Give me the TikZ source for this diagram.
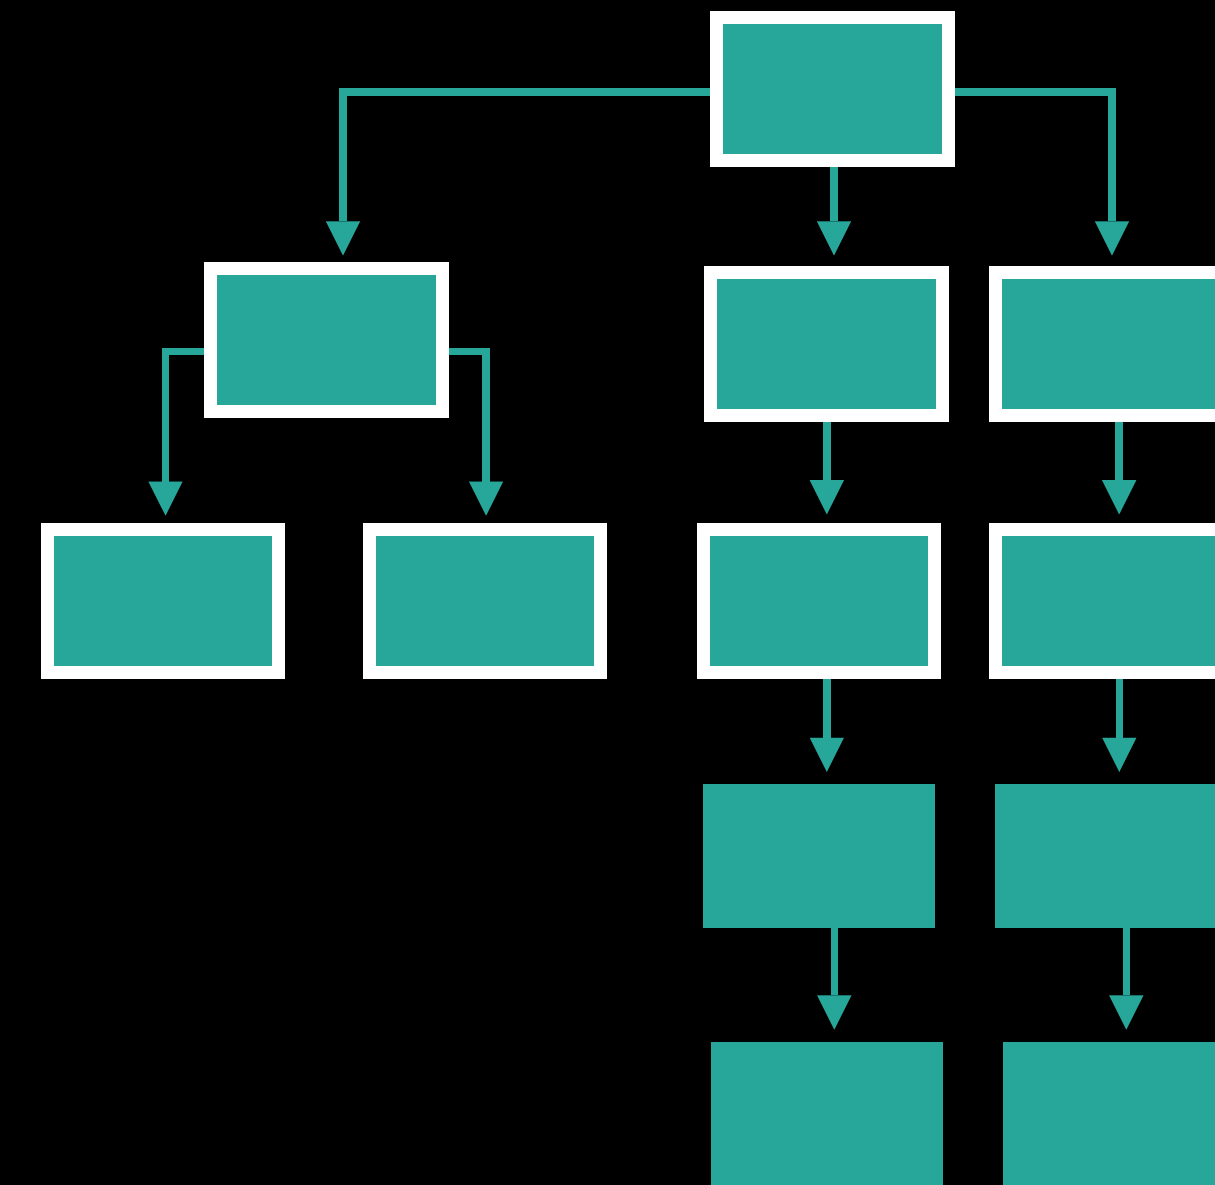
\documentclass[tikz,border=0pt]{standalone}
\usetikzlibrary{arrows.meta}
\definecolor{tealbox}{HTML}{27A79A}
\begin{document}
\begin{tikzpicture}[x=1pt,y=-1pt,
  framed/.style={rectangle,fill=tealbox,draw=white,line width=13pt,minimum width=231.5pt,minimum height=143pt,inner sep=0pt},
  plain/.style={rectangle,fill=tealbox,draw=none,minimum width=232pt,minimum height=143.7pt,inner sep=0pt,outer sep=0pt},
  arr/.style={draw=tealbox,line width=7.5pt,-{Triangle[width=34pt,length=34pt,line width=0.01pt]}}]
\fill[black] (0,0) rectangle (1215,1185);
\useasboundingbox (0,0) rectangle (1215,1185);
\clip (0,0) rectangle (1215,1185);
% row 1
\node[framed] (T) at (832.25,89.5) {};
% row 2
\node[framed] (A) at (326.7,340) {};
\node[framed] (B) at (826.5,344) {};
\node[framed] (C) at (1111.7,344) {};
% row 3
\node[framed] (D) at (163.2,600.5) {};
\node[framed] (E) at (484.8,600.5) {};
\node[framed] (F) at (819,600.5) {};
\node[framed] (G) at (1111.5,600.5) {};
% row 4
\node[plain] (H) at (819,856) {};
\node[plain] (I) at (1111,856) {};
% row 5
\node[plain] (J) at (827,1114) {};
\node[plain] (K) at (1119,1114) {};
% connectors
\draw[arr] ([yshift=-2.5pt]T.west) -| ([xshift=16.3pt,yshift=6.7pt]A.north);
\draw[arr] ([xshift=1.75pt]T.south) -- ([xshift=7.5pt,yshift=10.7pt]B.north);
\draw[arr] ([yshift=-2.5pt]T.east) -| ([xshift=0.3pt,yshift=10.7pt]C.north);
\draw[arr] ([yshift=-11.7pt]A.west) -| ([xshift=2.3pt,yshift=7pt]D.north);
\draw[arr] ([yshift=-11.7pt]A.east) -| ([xshift=1.2pt,yshift=7pt]E.north);
\draw[arr] ([xshift=0.3pt]B.south) -- ([xshift=7.8pt,yshift=8.3pt]F.north);
\draw[arr] ([xshift=7.5pt]C.south) -- ([xshift=7.7pt,yshift=8.3pt]G.north);
\draw[arr] ([xshift=7.8pt]F.south) -- ([xshift=7.8pt,yshift=12.3pt]H.north);
\draw[arr] ([xshift=7.8pt]G.south) -- ([xshift=8.3pt,yshift=12.3pt]I.north);
\draw[arr] ([xshift=15.3pt]H.south) -- ([xshift=7.3pt,yshift=12.7pt]J.north);
\draw[arr] ([xshift=15.3pt]I.south) -- ([xshift=7.3pt,yshift=12.7pt]K.north);
\end{tikzpicture}
\end{document}
